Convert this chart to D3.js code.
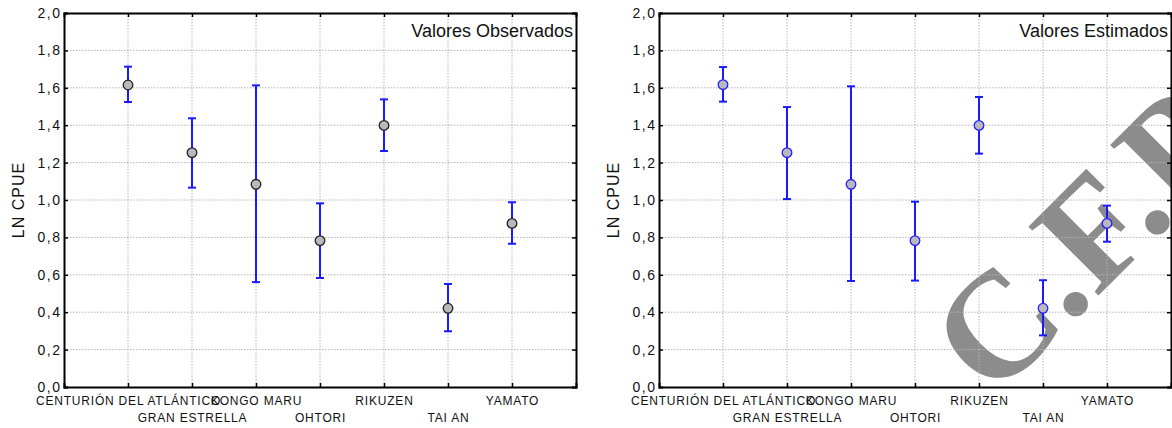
<!DOCTYPE html>
<html>
<head>
<meta charset="utf-8">
<script src="https://cdn.jsdelivr.net/npm/d3@7"></script>
<style>
  body { margin: 0; background: #fff; }
  svg { display: block; font-family: Arial, "Liberation Sans", sans-serif; }
</style>
</head>
<body>
<div id="visual"></div>
<script>
// data
const categories = ["CENTURIÓN DEL ATLÁNTICO", "GRAN ESTRELLA", "KONGO MARU", "OHTORI", "RIKUZEN", "TAI AN", "YAMATO"];
const obsMean = [1.615, 1.253, 1.084, 0.783, 1.399, 0.421, 0.875];
const obsLow  = [1.524, 1.066, 0.561, 0.583, 1.262, 0.298, 0.766];
const obsHigh = [1.713, 1.437, 1.613, 0.982, 1.538, 0.551, 0.988];
const estMean = [1.617, 1.253, 1.084, 0.783, 1.399, 0.421, 0.875];
const estLow  = [1.526, 1.005, 0.567, 0.569, 1.248, 0.276, 0.777];
const estHigh = [1.711, 1.497, 1.608, 0.991, 1.551, 0.571, 0.970];
const yTicks = [0, 0.2, 0.4, 0.6, 0.8, 1.0, 1.2, 1.4, 1.6, 1.8, 2.0];
const yTitle = "LN CPUE";

const W = 1172, H = 428;
const pw = 512, ph = 374;

const svg = d3.select("#visual").append("svg")
    .attr("width", W)
    .attr("height", H);

// watermark sits under the plots
svg.append("text")
    .attr("transform", "translate(993,401) rotate(-45)")
    .style("font-family", "'Liberation Serif', 'DejaVu Serif', serif")
    .style("font-size", "150px")
    .style("font-weight", "bold")
    .attr("fill", "#8c8c8c")
    .text("C.F.P.");

function panel(left, title, mean, low, high, markerStroke) {
    const g = svg.append("g").attr("transform", "translate(" + left + ",13)");

    const x = d3.scalePoint().domain(categories).range([0, pw]).padding(1);
    const y = d3.scaleLinear().domain([0, 2]).range([ph, 0]);

    // grid
    g.append("g").selectAll("line")
        .data(yTicks.slice(1, -1))
        .join("line")
        .attr("x1", 0).attr("x2", pw)
        .attr("y1", d => y(d)).attr("y2", d => y(d))
        .attr("stroke", "#b4b4b4").attr("stroke-dasharray", "1.5,1.5");
    g.append("g").selectAll("line")
        .data(categories)
        .join("line")
        .attr("x1", d => x(d)).attr("x2", d => x(d))
        .attr("y1", 0).attr("y2", ph)
        .attr("stroke", "#b4b4b4").attr("stroke-dasharray", "1.5,1.5");

    const fmt = d => d.toFixed(1).replace(".", ",");

    // axes, ticks point inward
    const ay = g.append("g")
        .call(d3.axisLeft(y).tickValues(yTicks).tickSize(-4).tickPadding(2.5).tickFormat(fmt));
    ay.selectAll("text").style("font-size", "14px").style("letter-spacing", "1.5px").attr("fill", "#111");

    g.append("g").attr("transform", "translate(" + pw + ",0)")
        .call(d3.axisRight(y).tickValues(yTicks).tickSize(-4).tickFormat(""));
    g.append("g")
        .call(d3.axisTop(x).tickSize(-4).tickFormat(""));

    const ax = g.append("g").attr("transform", "translate(0," + ph + ")")
        .call(d3.axisBottom(x).tickSize(-4).tickPadding(0));
    ax.selectAll("text")
        .style("font-size", "12px")
        .style("letter-spacing", "0.8px")
        .attr("fill", "#111")
        .attr("dy", null)
        .attr("y", (d, i) => i % 2 === 0 ? 18 : 35);

    g.selectAll(".domain").attr("stroke", "#000").attr("stroke-width", 2);
    g.selectAll(".tick line").attr("stroke", "#000").attr("stroke-width", 1.5);

    // y title
    g.append("text")
        .attr("transform", "translate(-40," + ph / 2 + ") rotate(-90)")
        .attr("text-anchor", "middle")
        .style("font-size", "16px")
        .style("letter-spacing", "1px")
        .attr("fill", "#111")
        .text(yTitle);

    // panel note
    g.append("text")
        .attr("x", pw - 3).attr("y", 24)
        .attr("text-anchor", "end")
        .style("font-size", "18px")
        .attr("fill", "#111")
        .text(title);

    // error bars
    const bars = g.append("g").selectAll("g")
        .data(categories.map((c, i) => ({ c: c, m: mean[i], lo: low[i], hi: high[i] })))
        .join("g");
    bars.append("line")
        .attr("x1", d => x(d.c)).attr("x2", d => x(d.c))
        .attr("y1", d => y(d.lo)).attr("y2", d => y(d.hi))
        .attr("stroke", "#1a1aff").attr("stroke-width", 2);
    bars.append("line")
        .attr("x1", d => x(d.c) - 4).attr("x2", d => x(d.c) + 4)
        .attr("y1", d => y(d.lo)).attr("y2", d => y(d.lo))
        .attr("stroke", "#1a1aff").attr("stroke-width", 2);
    bars.append("line")
        .attr("x1", d => x(d.c) - 4).attr("x2", d => x(d.c) + 4)
        .attr("y1", d => y(d.hi)).attr("y2", d => y(d.hi))
        .attr("stroke", "#1a1aff").attr("stroke-width", 2);
    bars.append("circle")
        .attr("cx", d => x(d.c)).attr("cy", d => y(d.m))
        .attr("r", 4.8)
        .attr("fill", "#b9b9b9")
        .attr("stroke", markerStroke).attr("stroke-width", 1.3);
}

panel(64, "Valores Observados", obsMean, obsLow, obsHigh, "#222");
panel(659, "Valores Estimados", estMean, estLow, estHigh, "#2020ff");
</script>
</body>
</html>
